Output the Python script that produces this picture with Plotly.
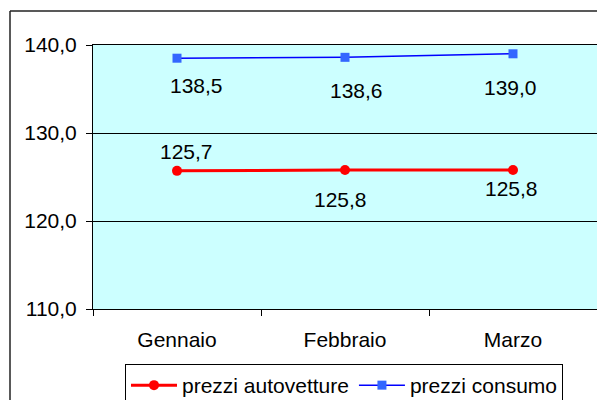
import plotly.graph_objects as go

months = ["Gennaio", "Febbraio", "Marzo"]
prezzi_autovetture = [125.7, 125.8, 125.8]
prezzi_consumo = [138.5, 138.6, 139.0]
y_ticks = [110, 120, 130, 140]

# label offsets (pixels) - styling only
auto_shift = [(9, 19), (-5, -30), (-2, -19)]
cons_shift = [(19, -27), (11, -33), (-3, -34)]

FONT = "Liberation Sans, Arial, sans-serif"
FS = 21

fig = go.Figure()
fig.add_trace(go.Scatter(
    x=months, y=prezzi_autovetture, name="prezzi autovetture",
    mode="lines+markers",
    line=dict(color="#FF0000", width=3),
    marker=dict(symbol="circle", size=10, color="#FF0000"),
))
fig.add_trace(go.Scatter(
    x=months, y=prezzi_consumo, name="prezzi consumo",
    mode="lines+markers",
    line=dict(color="#0000FF", width=1.5),
    marker=dict(symbol="square", size=9, color="#3366FF"),
))

annotations = []
for m, v, (dx, dy) in zip(months, prezzi_autovetture, auto_shift):
    annotations.append(dict(x=m, y=v, xref="x", yref="y", showarrow=False,
                            text=f"{v:.1f}".replace(".", ","),
                            xshift=dx, yshift=dy,
                            font=dict(family=FONT, size=FS, color="black")))
for m, v, (dx, dy) in zip(months, prezzi_consumo, cons_shift):
    annotations.append(dict(x=m, y=v, xref="x", yref="y", showarrow=False,
                            text=f"{v:.1f}".replace(".", ","),
                            xshift=dx, yshift=dy,
                            font=dict(family=FONT, size=FS, color="black")))

# page body has an 8px margin: figure occupies 8..605 x 8..400
OFF = 8
W, H = 605 - OFF, 400 - OFF
L, R, T, B = 93 - OFF, 605 - 597, 45 - OFF, 400 - 309
pw, ph = W - L - R, H - T - B

def px_x(px):
    return (px - OFF - L) / pw

def px_y(py):
    return (H - B - (py - OFF)) / ph

shapes = [
    dict(type="line", xref="paper", yref="paper",
         x0=px_x(10), x1=px_x(620), y0=px_y(11), y1=px_y(11),
         line=dict(color="#222222", width=1.5)),
    dict(type="line", xref="paper", yref="paper",
         x0=px_x(10), x1=px_x(10), y0=px_y(11), y1=px_y(420),
         line=dict(color="#222222", width=1.5)),
]

fig.update_layout(
    width=W, height=H,
    margin=dict(l=L, r=R, t=T, b=B, pad=0, autoexpand=False),
    paper_bgcolor="white",
    plot_bgcolor="#CCFFFF",
    separators=",.",
    font=dict(family=FONT, size=FS, color="black"),
    showlegend=True,
    legend=dict(orientation="h", x=px_x(125), xanchor="left",
                y=px_y(364), yanchor="top",
                bordercolor="black", borderwidth=1, bgcolor="white",
                font=dict(family=FONT, size=FS, color="black"),
                itemwidth=46, tracegroupgap=0),
    annotations=annotations,
    shapes=shapes,
)
fig.update_xaxes(
    type="category", range=[-0.5, 2.5], tickson="boundaries",
    ticks="outside", ticklen=6,
    tickcolor="black", showline=True, linecolor="black", linewidth=1,
    mirror=True, showgrid=False, zeroline=False,
    ticklabelstandoff=12,
    tickfont=dict(family=FONT, size=FS, color="black"),
)
fig.update_yaxes(
    range=[110, 140], tickvals=y_ticks, tickformat=".1f",
    ticks="outside", ticklen=6, tickcolor="black",
    showline=True, linecolor="black", linewidth=1, mirror=True,
    showgrid=True, gridcolor="black", gridwidth=1, zeroline=False,
    ticklabelstandoff=5,
    tickfont=dict(family=FONT, size=FS, color="black"),
)

fig.write_html("out.html")
